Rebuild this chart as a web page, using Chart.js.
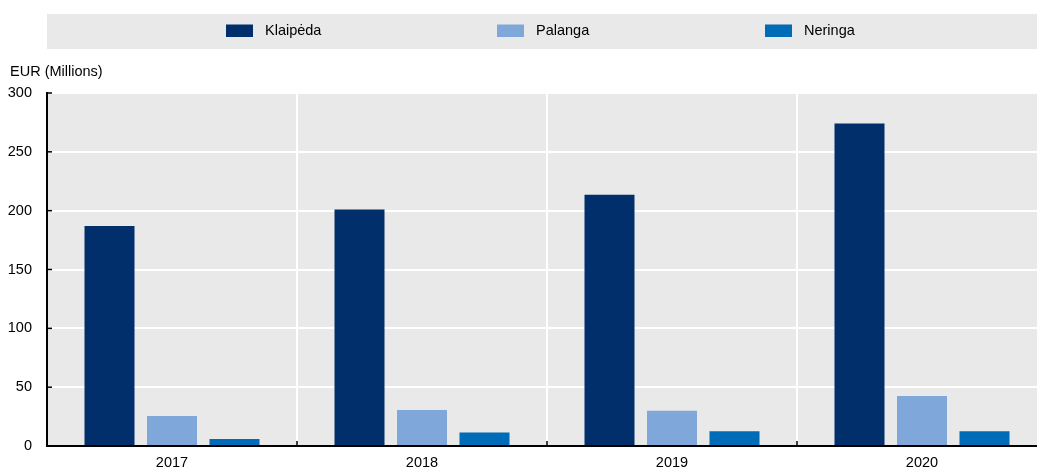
<!DOCTYPE html>
<html>
<head>
<meta charset="utf-8">
<script src="https://cdn.jsdelivr.net/npm/chart.js@4.4.1/dist/chart.umd.min.js"></script>
<style>
    html, body { margin: 0; padding: 0; background: #fff; overflow: hidden; }
    #wrap { width: 1047px; height: 470px; }
</style>
</head>
<body>
<div id="wrap"><canvas id="grafico" width="1047" height="470"></canvas></div>
<script>
// Datos (millones de EUR)
const anios = ['2017', '2018', '2019', '2020'];
const klaipeda = [187, 201, 213.5, 274];
const palanga = [25.5, 30.5, 30, 42.5];
const neringa = [6, 11.5, 12.5, 12.5];
const ticksY = [0, 50, 100, 150, 200, 250, 300];

const FUENTE = "'Liberation Sans', Arial, sans-serif";
const TAM = 14.5;
const FONDO = '#e9e9e9';

// Fondo gris del área de trazado, leyenda propia y marcas del eje
const decoraciones = {
    id: 'decoraciones',
    beforeDraw(chart) {
        const { ctx, chartArea } = chart;
        ctx.save();
        ctx.fillStyle = FONDO;
        ctx.fillRect(chartArea.left, chartArea.top, chartArea.right - chartArea.left, chartArea.bottom - chartArea.top);
        // caja de la leyenda
        ctx.fillRect(chartArea.left, 14, chartArea.right - chartArea.left, 35);
        ctx.restore();
    },
    afterDraw(chart) {
        const { ctx, chartArea, scales } = chart;
        ctx.save();
        // leyenda
        const posiciones = [226, 497, 765];
        ctx.font = TAM + 'px ' + FUENTE;
        ctx.textBaseline = 'middle';
        chart.data.datasets.forEach((ds, i) => {
            const x = posiciones[i];
            ctx.fillStyle = ds.backgroundColor;
            ctx.fillRect(x, 24.5, 27, 12.5);
            ctx.fillStyle = '#000';
            ctx.fillText(ds.label, x + 39, 31);
        });

        // título del eje Y
        ctx.textAlign = 'left';
        ctx.fillText('EUR (Millions)', 10, 72);

        // marcas hacia dentro del eje Y
        ctx.strokeStyle = '#000';
        ctx.lineWidth = 1.5;
        ticksY.forEach(v => {
            const y = scales.y.getPixelForValue(v);
            ctx.beginPath();
            ctx.moveTo(chartArea.left, y);
            ctx.lineTo(chartArea.left + 5, y);
            ctx.stroke();
        });
        // marcas entre categorías sobre el eje X
        for (let i = 1; i < anios.length; i++) {
            const x = (scales.x.getPixelForTick(i - 1) + scales.x.getPixelForTick(i)) / 2;
            ctx.beginPath();
            ctx.moveTo(x, chartArea.bottom);
            ctx.lineTo(x, chartArea.bottom - 5);
            ctx.stroke();
        }
        ctx.restore();
    }
};

new Chart(document.getElementById('grafico'), {
    type: 'bar',
    data: {
        labels: anios,
        datasets: [
            { label: 'Klaipėda', data: klaipeda, backgroundColor: '#002f6c' },
            { label: 'Palanga', data: palanga, backgroundColor: '#7fa7d9' },
            { label: 'Neringa', data: neringa, backgroundColor: '#006bb6' }
        ]
    },
    options: {
        responsive: false,
        animation: false,
        layout: { padding: { top: 93, left: 0, right: 0, bottom: 0 } },
        datasets: {
            bar: { categoryPercentage: 0.75, barPercentage: 0.8 }
        },
        plugins: {
            legend: { display: false },
            tooltip: { enabled: false }
        },
        scales: {
            x: {
                afterFit(scale) { scale.height = 24; },
                grid: { color: '#ffffff', lineWidth: 2, drawTicks: false, offset: true },
                border: { color: '#000', width: 2 },
                ticks: { color: '#000', font: { family: FUENTE, size: TAM }, padding: 8 }
            },
            y: {
                min: 0,
                max: 300,
                afterFit(scale) { scale.width = 47; },
                afterBuildTicks(scale) { scale.ticks = ticksY.map(v => ({ value: v })); },
                grid: { color: '#ffffff', lineWidth: 2, drawTicks: false },
                border: { color: '#000', width: 2 },
                ticks: { color: '#000', font: { family: FUENTE, size: TAM }, padding: 15 }
            }
        }
    },
    plugins: [decoraciones]
});
</script>
</body>
</html>
